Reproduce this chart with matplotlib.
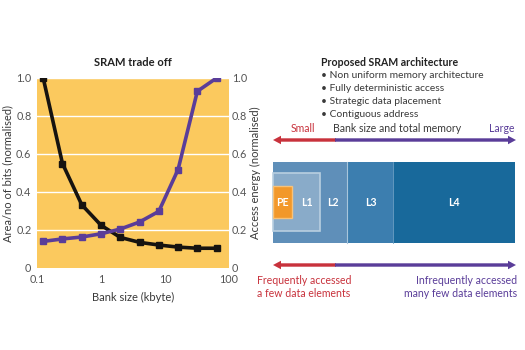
import numpy as np
import matplotlib
matplotlib.use("Agg")
import matplotlib.pyplot as plt
from matplotlib.patches import Rectangle, FancyArrow
from matplotlib.ticker import FuncFormatter

plt.rcParams['font.family'] = ['Lato', 'DejaVu Sans']

# data
bank_kb = [0.125, 0.25, 0.5, 1, 2, 4, 8, 16, 32, 64]
area = [1.0, 0.55, 0.333, 0.225, 0.161, 0.135, 0.121, 0.11, 0.104, 0.104]
energy = [0.14, 0.153, 0.163, 0.18, 0.205, 0.242, 0.298, 0.518, 0.93, 1.0]
y_ticks = [0, 0.2, 0.4, 0.6, 0.8, 1.0]
x_ticks = [0.1, 1, 10, 100]
x_ticklabels = ['0.1', '1', '10', '100']

bullets = ['Non uniform memory architecture', 'Fully deterministic access',
           'Strategic data placement', 'Contiguous address']
levels = ['PE', 'L1', 'L2', 'L3', 'L4']

W, H = 525, 350
fig = plt.figure(figsize=(W / 100, H / 100), dpi=100)
fig.patch.set_facecolor('white')

orange = '#fbc95e'
black = '#161310'
purple = '#5a3d99'
red = '#c8323c'
text_c = '#3a3a3a'
tick_c = '#555555'

ax = fig.add_axes([37 / W, 1 - 268 / H, 192 / W, 190 / H])
ax.set_facecolor(orange)
ax.set_xscale('log')
ax.set_xlim(0.1, 100)
ax.set_ylim(0, 1.0)
for yv in y_ticks[1:]:
    ax.axhline(yv, color='white', lw=1.0, zorder=1)
ax.plot(bank_kb, area, color=black, lw=2.6, marker='s', ms=4.5, zorder=3)
ax.set_xticks(x_ticks)
ax.set_xticklabels(x_ticklabels)
ax.minorticks_off()
ax.set_yticks(y_ticks)
fmt = FuncFormatter(lambda v, p: '0' if v == 0 else f'{v:.1f}')
ax.yaxis.set_major_formatter(fmt)
ax.tick_params(length=0, labelsize=7.8, colors=tick_c, pad=4)
for s in ax.spines.values():
    s.set_visible(False)
ax.set_xlabel('Bank size (kbyte)', fontsize=8, color=text_c, labelpad=5)
ax.set_ylabel('Area/no of bits (normalised)', fontsize=8, color=text_c, labelpad=2)
ax.set_title('SRAM trade off', fontsize=8, fontweight='bold', color='#222222', pad=9)

ax2 = ax.twinx()
ax2.set_ylim(0, 1.0)
ax2.plot(bank_kb, energy, color=purple, lw=2.6, marker='s', ms=4.5, zorder=3)
ax2.set_yticks(y_ticks)
ax2.yaxis.set_major_formatter(fmt)
ax2.tick_params(length=0, labelsize=7.8, colors=tick_c, pad=2)
for s in ax2.spines.values():
    s.set_visible(False)
ax2.set_ylabel('Access energy (normalised)', fontsize=8, color=text_c, labelpad=2)

# right-hand diagram drawn in pixel coordinates
d = fig.add_axes([0, 0, 1, 1], zorder=-1)
d.set_xlim(0, W)
d.set_ylim(H, 0)
d.axis('off')

d.text(321, 62, 'Proposed SRAM architecture', fontsize=7.6, fontweight='bold',
       color='#222222', va='center')
for i, b in enumerate(bullets):
    d.text(321, 75 + i * 13.3, '\u2022 ' + b, fontsize=7.4, color=text_c, va='center')


def arrow(y):
    d.add_patch(FancyArrow(336, y, -63, 0, width=3.4, head_width=8.5, head_length=8,
                           length_includes_head=True, color=red, lw=0))
    d.add_patch(FancyArrow(335, y, 181, 0, width=3.4, head_width=8.5, head_length=8,
                           length_includes_head=True, color=purple, lw=0))


arrow(140)
d.text(291, 128, 'Small', fontsize=7.6, color=red, va='center')
d.text(333, 128, 'Bank size and total memory', fontsize=7.6, color=text_c, va='center')
d.text(515, 128, 'Large', fontsize=7.6, color=purple, va='center', ha='right')

# memory hierarchy boxes
d.add_patch(Rectangle((273, 162), 74, 81, facecolor='#5f8fb9', edgecolor='none'))
d.add_patch(Rectangle((347, 162), 46, 81, facecolor='#3c7eaf', edgecolor='none'))
d.add_patch(Rectangle((393, 162), 122, 81, facecolor='#18699b', edgecolor='none'))
d.plot([347, 347], [162, 243], color='#a9c6dc', lw=0.8)
d.plot([393, 393], [162, 243], color='#6e9fc4', lw=0.6)
d.add_patch(Rectangle((273, 173), 47, 58, facecolor='#89abc9', edgecolor='#b9cfe0', lw=1.2))
d.add_patch(Rectangle((273, 186), 19, 32, facecolor='#f2982a', edgecolor='#f7c27a', lw=1.0))
centers = [282, 307, 333, 371, 454]
for name, cx in zip(levels, centers):
    d.text(cx, 202, name, fontsize=7.6, fontweight='bold', color='white',
           ha='center', va='center')

arrow(265)
d.text(257, 287, 'Frequently accessed\na few data elements', fontsize=7.6,
       color=red, va='center', linespacing=1.15)
d.text(517, 287, 'Infrequently accessed\nmany few data elements', fontsize=7.6,
       color=purple, va='center', ha='right', linespacing=1.15, multialignment='right')

fig.savefig('out.png', dpi=100, facecolor='white')
